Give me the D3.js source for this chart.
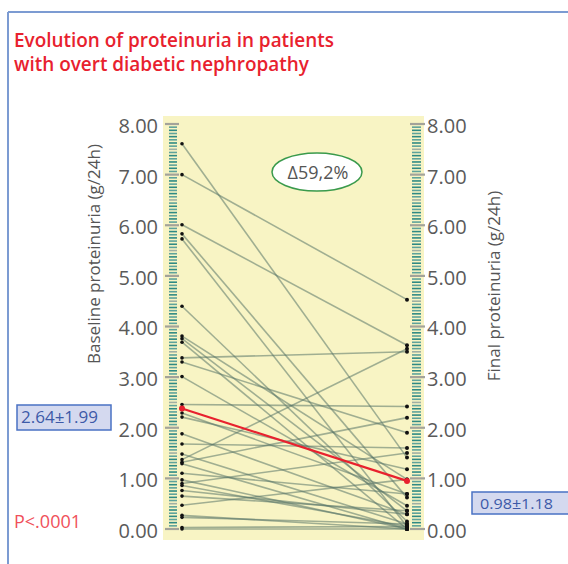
<!DOCTYPE html>
<html>
<head>
<meta charset="utf-8">
<script src="https://cdn.jsdelivr.net/npm/d3@7"></script>
<style>
  html, body { margin: 0; padding: 0; background: #fff; }
  svg { display: block; font-family: "Open Sans", sans-serif; }
</style>
</head>
<body>
<svg id="chart" width="568" height="564"></svg>
<script>
// ---- data ----
const titleLines = ["Evolution of proteinuria in patients", "with overt diabetic nephropathy"];
const leftAxisTitle = "Baseline proteinuria (g/24h)";
const rightAxisTitle = "Final proteinuria (g/24h)";
const tickValuesMajor = [0, 1, 2, 3, 4, 5, 6, 7, 8];
const baselineValues = [7.61, 7.00, 6.01, 5.83, 5.73, 4.40, 3.81, 3.76, 3.69, 3.38, 3.30, 3.01,
  2.46, 2.29, 2.21, 1.88, 1.68, 1.48, 1.37, 1.32, 1.29, 1.10, 0.97, 0.90, 0.86, 0.76, 0.65,
  0.47, 0.27, 0.23, 0.03, 0.00];
const finalValues = [1.41, 4.53, 3.63, 0.62, 0.05, 0.15, 0.98, 0.36, 0.00, 3.50, 1.90, 0.46,
  2.42, 0.69, 1.18, 0.29, 1.60, 0.10, 3.56, 2.20, 0.00, 0.69, 0.00, 1.50, 0.05, 0.29, 0.36,
  0.98, 0.00, 0.10, 0.05, 0.00];
const meanLine = [2.38, 0.95];
const baselineLabel = "2.64±1.99";
const finalLabel = "0.98±1.18";
const pLabel = "P<.0001";
const deltaLabel = "Δ59,2%";

// ---- layout ----
const svg = d3.select("#chart");
const plotX0 = 163, plotX1 = 424, plotY0 = 116, plotY1 = 540;
const xLeft = 182, xRight = 407;
const y = d3.scaleLinear().domain([0, 8]).range([529, 124]);
const x = d3.scalePoint().domain(["baseline", "final"]).range([xLeft, xRight]);

// frame lines
svg.append("line").attr("x1", 8).attr("x2", 8).attr("y1", 12).attr("y2", 564)
  .attr("stroke", "#7c9bd2").attr("stroke-width", 2);
svg.append("line").attr("x1", 8).attr("x2", 568).attr("y1", 12).attr("y2", 12)
  .attr("stroke", "#7c9bd2").attr("stroke-width", 2);

// title
svg.append("g").selectAll("text").data(titleLines).join("text")
  .attr("x", 14).attr("y", (d, i) => 47 + i * 24)
  .attr("fill", "#e8212e").attr("font-size", 19).attr("font-weight", 600)
  .attr("textLength", (d, i) => i === 0 ? 320 : 295)
  .attr("lengthAdjust", "spacingAndGlyphs")
  .text(d => d);

// plot background
svg.append("rect").attr("x", plotX0).attr("y", plotY0)
  .attr("width", plotX1 - plotX0).attr("height", plotY1 - plotY0)
  .attr("fill", "#f8f4c4");

// rulers (16 dashes per unit)
const perUnit = 16;
const minorTicks = d3.range(0, 8 * perUnit + 1);
function ruler(g, xa, xb, xMajA, xMajB) {
  g.selectAll("line").data(minorTicks).join("line")
    .attr("x1", k => k % perUnit === 0 ? xMajA : xa)
    .attr("x2", k => k % perUnit === 0 ? xMajB : xb)
    .attr("y1", k => y(k / perUnit)).attr("y2", k => y(k / perUnit))
    .attr("stroke", k => k % perUnit === 0 ? "#a3a39a" : (k % 8 === 0 ? "#9fb0a4" : (k % 2 === 0 ? "#2f8a84" : "#5ea39b")))
    .attr("stroke-width", k => k % perUnit === 0 ? 2.2 : 1.6);
}
ruler(svg.append("g"), 169, 177, 165, 179);
ruler(svg.append("g"), 412, 421, 410, 425);

// axis labels via d3 axes
const axL = svg.append("g").attr("transform", `translate(${plotX0},0)`)
  .call(d3.axisLeft(y).tickValues(tickValuesMajor).tickFormat(d3.format(".2f")).tickSize(0).tickPadding(5));
const axR = svg.append("g").attr("transform", `translate(${plotX1},0)`)
  .call(d3.axisRight(y).tickValues(tickValuesMajor).tickFormat(d3.format(".2f")).tickSize(0).tickPadding(3));
[axL, axR].forEach(a => {
  a.select(".domain").remove();
  a.selectAll("text").attr("font-size", 20).attr("fill", "#5a5a5a")
    .attr("font-family", "Open Sans, sans-serif").attr("dy", "0.42em");
});

// axis titles
svg.append("text").attr("transform", "translate(100,254) rotate(-90)")
  .attr("text-anchor", "middle").attr("font-size", 17).attr("fill", "#555")
  .text(leftAxisTitle);
svg.append("text").attr("transform", "translate(500,286) rotate(-90)")
  .attr("text-anchor", "middle").attr("font-size", 17).attr("fill", "#555")
  .text(rightAxisTitle);

// patient lines
const pairs = baselineValues.map((b, i) => ({ b, f: finalValues[i] }));
svg.append("g").selectAll("line").data(pairs).join("line")
  .attr("x1", x("baseline")).attr("x2", x("final"))
  .attr("y1", d => y(d.b)).attr("y2", d => y(d.f))
  .attr("stroke", "#587468").attr("stroke-opacity", 0.55).attr("stroke-width", 1.6);

// dots
svg.append("g").selectAll("circle").data(baselineValues).join("circle")
  .attr("cx", x("baseline")).attr("cy", d => y(d)).attr("r", 1.8).attr("fill", "#111");
svg.append("g").selectAll("circle").data(finalValues).join("circle")
  .attr("cx", x("final")).attr("cy", d => y(d)).attr("r", 2).attr("fill", "#111");

// mean line
svg.append("line").attr("x1", x("baseline")).attr("x2", x("final"))
  .attr("y1", y(meanLine[0])).attr("y2", y(meanLine[1]))
  .attr("stroke", "#e8212e").attr("stroke-width", 2.2);
svg.append("g").selectAll("circle").data(meanLine).join("circle")
  .attr("cx", (d, i) => i === 0 ? x("baseline") : x("final"))
  .attr("cy", d => y(d)).attr("r", 3).attr("fill", "#e8212e");

// delta ellipse
svg.append("ellipse").attr("cx", 317).attr("cy", 172).attr("rx", 45).attr("ry", 19)
  .attr("fill", "#fff").attr("stroke", "#3a9a4c").attr("stroke-width", 1.5);
svg.append("text").attr("x", 318).attr("y", 179).attr("text-anchor", "middle")
  .attr("font-size", 18).attr("fill", "#555").text(deltaLabel);

// mean boxes
svg.append("rect").attr("x", 17).attr("y", 405).attr("width", 94).attr("height", 25)
  .attr("fill", "#d4d9ef").attr("stroke", "#4a72c4").attr("stroke-width", 1.5);
svg.append("text").attr("x", 21).attr("y", 423).attr("font-size", 16).attr("fill", "#3d5aa8")
  .attr("textLength", 77).attr("lengthAdjust", "spacingAndGlyphs").text(baselineLabel);
svg.append("rect").attr("x", 472).attr("y", 492).attr("width", 100).attr("height", 22)
  .attr("fill", "#d4d9ef").attr("stroke", "#4a72c4").attr("stroke-width", 1.5);
svg.append("text").attr("x", 480).attr("y", 509).attr("font-size", 15).attr("fill", "#3d5aa8")
  .attr("textLength", 73).attr("lengthAdjust", "spacingAndGlyphs").text(finalLabel);

// p value
svg.append("text").attr("x", 14).attr("y", 528).attr("font-size", 18).attr("fill", "#f0505a")
  .text(pLabel);
</script>
</body>
</html>
